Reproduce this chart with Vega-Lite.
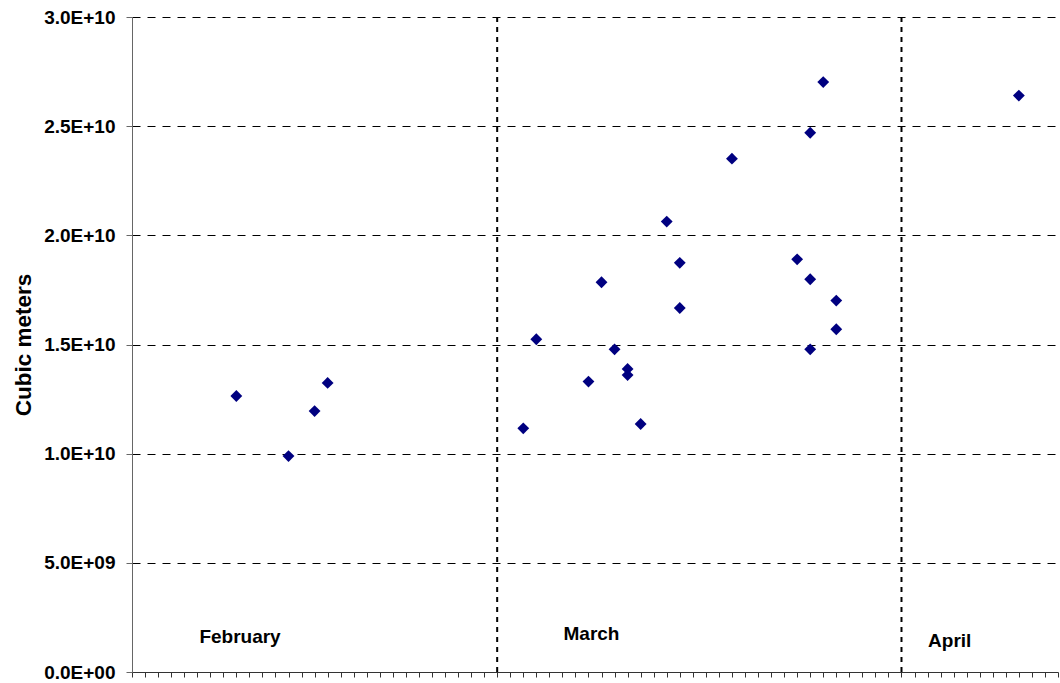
{
  "$schema": "https://vega.github.io/schema/vega-lite/v6.json",
  "autosize": {"type": "none"},
  "width": 926,
  "height": 655,
  "padding": {"left": 132, "top": 17, "right": 2, "bottom": 11},
  "background": "white",
  "config": {"view": {"stroke": null}, "font": "Liberation Sans"},
  "datasets": {
    "volumes": [
      {"date": "2003-02-09", "cubic_meters": 12640000000},
      {"date": "2003-02-13", "cubic_meters": 9890000000},
      {"date": "2003-02-15", "cubic_meters": 11950000000},
      {"date": "2003-02-16", "cubic_meters": 13240000000},
      {"date": "2003-03-03", "cubic_meters": 11160000000},
      {"date": "2003-03-04", "cubic_meters": 15240000000},
      {"date": "2003-03-08", "cubic_meters": 13300000000},
      {"date": "2003-03-09", "cubic_meters": 17850000000},
      {"date": "2003-03-10", "cubic_meters": 14780000000},
      {"date": "2003-03-11", "cubic_meters": 13880000000},
      {"date": "2003-03-11", "cubic_meters": 13600000000},
      {"date": "2003-03-12", "cubic_meters": 11360000000},
      {"date": "2003-03-14", "cubic_meters": 20630000000},
      {"date": "2003-03-15", "cubic_meters": 18740000000},
      {"date": "2003-03-15", "cubic_meters": 16670000000},
      {"date": "2003-03-19", "cubic_meters": 23510000000},
      {"date": "2003-03-24", "cubic_meters": 18900000000},
      {"date": "2003-03-25", "cubic_meters": 24700000000},
      {"date": "2003-03-25", "cubic_meters": 17990000000},
      {"date": "2003-03-25", "cubic_meters": 14780000000},
      {"date": "2003-03-26", "cubic_meters": 27020000000},
      {"date": "2003-03-27", "cubic_meters": 17010000000},
      {"date": "2003-03-27", "cubic_meters": 15700000000},
      {"date": "2003-04-10", "cubic_meters": 26400000000}
    ],
    "months": [
      {"date": "2003-03-01"},
      {"date": "2003-04-01"}
    ],
    "labels": [
      {"date": "2003-02-06T04:00:00Z", "cubic_meters": 1314000000, "label": "February"},
      {"date": "2003-03-06T02:00:00Z", "cubic_meters": 1447000000, "label": "March"},
      {"date": "2003-04-03T01:00:00Z", "cubic_meters": 1131000000, "label": "April"}
    ]
  },
  "encoding": {
    "x": {
      "field": "date",
      "type": "temporal",
      "scale": {
        "type": "utc",
        "nice": false,
        "domain": [1044057600000, 1050192000000]
      },
      "axis": {
        "title": null,
        "labels": false,
        "grid": false,
        "tickCount": {"interval": "day", "step": 1},
        "tickSize": 5,
        "tickColor": "#333",
        "domainColor": "#333",
        "domainWidth": 1
      }
    },
    "y": {
      "field": "cubic_meters",
      "type": "quantitative",
      "scale": {"domain": [0, 30000000000], "nice": false},
      "axis": {
        "title": "Cubic meters",
        "values": [0, 5000000000, 10000000000, 15000000000, 20000000000, 25000000000, 30000000000],
        "labelExpr": "slice(format(datum.value,'.1e'),0,3) + 'E+' + pad(slice(format(datum.value,'.1e'),5),2,'0','left')",
        "grid": true,
        "gridColor": "#000",
        "gridDash": [8, 7],
        "gridWidth": 1,
        "domainColor": "#666",
        "tickColor": "#666",
        "tickSize": 6,
        "labelFont": "Liberation Sans",
        "labelFontSize": 19,
        "labelFontWeight": "bold",
        "labelColor": "#000",
        "labelPadding": 11,
        "labelFlush": false,
        "labelOverlap": false,
        "labelBound": false,
        "titleFont": "Liberation Sans",
        "titleFontSize": 22.5,
        "titleFontWeight": "bold",
        "titleColor": "#000",
        "titleAngle": -90,
        "titleX": -109,
        "titleY": 327.5,
        "titleAlign": "center",
        "titleBaseline": "middle"
      }
    }
  },
  "layer": [
    {
      "data": {"name": "months"},
      "mark": {"type": "rule", "color": "#000", "strokeWidth": 2, "strokeDash": [5, 5]},
      "encoding": {"y": null}
    },
    {
      "data": {"name": "volumes"},
      "mark": {"type": "point", "shape": "diamond", "filled": true, "size": 140, "color": "#000080", "opacity": 1}
    },
    {
      "data": {"name": "labels"},
      "mark": {"type": "text", "align": "left", "baseline": "alphabetic", "font": "Liberation Sans", "fontSize": 19, "fontWeight": "bold", "color": "#000"},
      "encoding": {
        "text": {"field": "label", "type": "nominal"}
      }
    }
  ]
}
